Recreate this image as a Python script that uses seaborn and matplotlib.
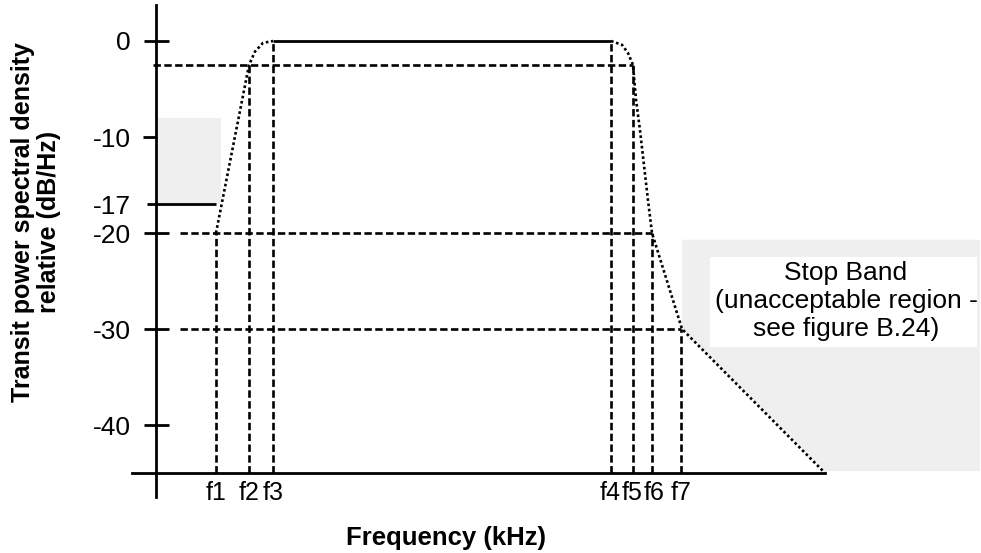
import matplotlib.pyplot as plt
import matplotlib.transforms as mtransforms
import seaborn as sns
from matplotlib.patches import Rectangle

# frequency marks (arbitrary units, y axis sits at 0)
freq_names = ['f1', 'f2', 'f3', 'f4', 'f5', 'f6', 'f7']
freq_pos = [6.0, 9.3, 11.7, 45.5, 47.7, 49.6, 52.5]
freq_end = 66.9

# level ticks (dB)
major_levels = [0, -20, -30, -40]
minor_levels = [-10, -17]
floor_level = -45

# top of each dashed frequency marker
marker_top = [-20, -2.5, 0, 0, -2.5, -20, -30]

# dashed level guides: level, start, end
guide_level = [-2.5, -20, -30]
guide_start = [-0.3, 2.4, 2.4]
guide_end = [47.7, 49.6, 52.5]

# dotted mask, lower edge and upper edge
left_x = [6.0, 9.3, 9.9, 10.7, 11.7]
left_y = [-20, -2.5, -1.1, -0.2, 0]
right_x = [45.5, 46.6, 47.2, 47.7, 47.8, 48.0, 48.4, 49.2, 49.6, 52.6, 66.9]
right_y = [0, -0.4, -1.25, -2.5, -3.75, -6.1, -9.3, -16.6, -20, -30, -45]

# grey regions
stop_x = [52.6, 82.4, 82.4, 66.9, 52.6]
stop_y = [-20.7, -20.7, -44.8, -44.8, -30]
low_box = (0.1, -17, 6.4, 9)   # x, y, width, height

sns.set_theme(style='white')
plt.rcParams['font.family'] = ['Liberation Sans', 'DejaVu Sans']
plt.rcParams['text.color'] = 'black'
plt.rcParams['axes.labelcolor'] = 'black'

fig = plt.figure(figsize=(9.81, 5.53), dpi=100)
ax = fig.add_axes([0, 0, 1, 1])
ax.set_xlim(-15.6, 82.5)
ax.set_ylim(-53.33, 4.27)

grey = '#efefef'
ax.add_patch(Rectangle(low_box[:2], low_box[2], low_box[3], color=grey, lw=0, zorder=0))
ax.fill(stop_x, stop_y, color=grey, lw=0, zorder=0)
ax.add_patch(Rectangle((55.4, -31.9), 26.7, 9.4, color='white', lw=0, zorder=1))
ax.text(69.0, -27.1, 'Stop Band\n(unacceptable region -\nsee figure B.24)',
        ha='center', va='center', ma='center', fontsize=19, zorder=2)

dash = (0, (2.8, 1.3))
dot = (0, (1, 1))

# dashed markers
ax.vlines(freq_pos, floor_level, marker_top, colors='black', lw=1.9, linestyles=dash)
ax.hlines(guide_level, guide_start, guide_end, colors='black', lw=1.9, linestyles=dash)

# solid limits
ax.hlines(0, freq_pos[2], freq_pos[3], colors='black', lw=2)
ax.hlines(-17, 0, freq_pos[0], colors='black', lw=2)

# dotted mask
sns.lineplot(x=left_x, y=left_y, sort=False, estimator=None, color='black',
             lw=1.9, ls=dot, ax=ax)
sns.lineplot(x=right_x, y=right_y, sort=False, estimator=None, color='black',
             lw=1.9, ls=dot, ax=ax)

# axes lines
for side in ['top', 'right']:
    ax.spines[side].set_visible(False)
ax.spines['left'].set_position(('data', 0))
ax.spines['left'].set_bounds(-47.5, 3.75)
ax.spines['bottom'].set_position(('data', floor_level))
ax.spines['bottom'].set_bounds(-2.4, freq_end)
for side in ['left', 'bottom']:
    ax.spines[side].set_color('black')
    ax.spines[side].set_linewidth(2)

ax.set_yticks(major_levels, labels=[str(v) for v in major_levels])
ax.set_yticks(minor_levels, labels=[str(v) for v in minor_levels], minor=True)
ax.tick_params(axis='y', which='major', direction='inout', length=18, width=2,
               pad=9, labelsize=19, colors='black', left=True)
ax.tick_params(axis='y', which='minor', direction='out', length=9.4, width=2,
               pad=8.6, labelsize=19, colors='black', left=True)
ax.yaxis.get_minor_ticks()[1].tick1line.set_markersize(6.5)

ax.set_xticks(freq_pos, labels=freq_names)
ax.tick_params(axis='x', length=0, pad=6, labelsize=18, colors='black')
# the f4..f6 labels sit tight together; nudge them apart a touch
nudges = {'f4': -1.0, 'f5': -1.0, 'f6': 2.5}
for lab in ax.get_xticklabels():
    shift = nudges.get(lab.get_text(), 0)
    if shift:
        lab.set_transform(lab.get_transform() +
                          mtransforms.ScaledTranslation(shift / 100, 0, fig.dpi_scale_trans))

ax.set_xlabel('Frequency (kHz)', fontsize=18.5, fontweight='bold')
ax.xaxis.label.set_va('center')
ax.xaxis.set_label_coords(446 / 981, 1 - 538 / 553)
ax.set_ylabel('Transit power spectral density\nrelative (dB/Hz)', fontsize=18,
              fontweight='bold', linespacing=1.15)
ax.yaxis.label.set_va('center')
ax.yaxis.set_label_coords(36 / 981, 1 - 222 / 553)

fig.savefig('out.png', dpi=100)
